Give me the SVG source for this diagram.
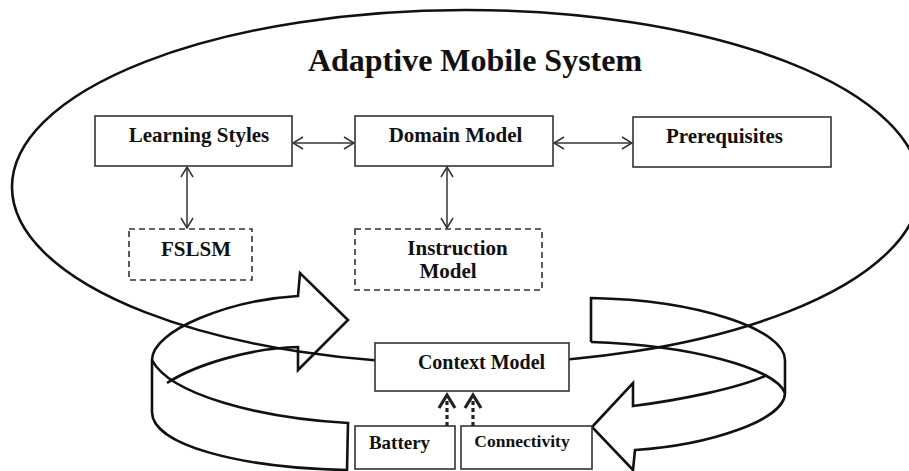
<svg xmlns="http://www.w3.org/2000/svg" width="909" height="471" viewBox="0 0 909 471">
  <style>
    .lbl { font-family: "Liberation Serif", "Times New Roman", serif; font-weight: bold; fill: #111; text-anchor: middle; }
    .box { fill: #fff; stroke: #333; stroke-width: 1.6; }
    .dbox { fill: #fff; stroke: #333; stroke-width: 1.6; stroke-dasharray: 6 4; }
    .link { fill: none; stroke: #333; stroke-width: 1.5; }
    .ring { fill: none; stroke: #111; stroke-width: 2.6; stroke-linejoin: miter; }
    .dep { fill: none; stroke: #222; stroke-width: 3.2; stroke-dasharray: 4 3; }
    .head { fill: none; stroke: #222; stroke-width: 3.2; stroke-linejoin: miter; }
  </style>
  <defs>
    <marker id="open" viewBox="0 0 12 14" refX="11" refY="7" markerWidth="12" markerHeight="14" markerUnits="userSpaceOnUse" orient="auto-start-reverse">
      <path d="M1,1 L11,7 L1,13" fill="none" stroke="#333" stroke-width="1.5"/>
    </marker>
  </defs>

  <!-- system boundary -->
  <ellipse cx="466" cy="187" rx="454" ry="177" fill="none" stroke="#111" stroke-width="2.6"/>
  <text class="lbl" x="475" y="71" font-size="32">Adaptive Mobile System</text>

  <!-- circular context loop ribbon -->
  <g id="loop">
    <!-- left: back arrow pointing right, left side and front band -->
    <path class="ring" d="M152,360 C152,330 230,300 298,296 L300,273 L348,320 L298,370 L298,347 C250,348 195,365 167,383"/>
    <path class="ring" d="M152,360 L152,412 C152,445 240,468 347,470 L348,423 C260,418 170,395 152,360"/>
    <!-- right: rear end, right side and front arrow pointing left -->
    <path class="ring" d="M591,342 L591,298 C700,300 785,330 785,360 L785,393 C785,420 710,445 635,450 L633,470 L592,427 L633,383 L633,406 C680,400 740,388 767,375"/>
    <path class="ring" d="M591,342 C690,345 775,368 785,393"/>
  </g>

  <!-- connectors -->
  <g id="connectors">
    <line class="link" x1="293" y1="143" x2="354" y2="143" marker-start="url(#open)" marker-end="url(#open)"/>
    <line class="link" x1="554" y1="143" x2="632" y2="143" marker-start="url(#open)" marker-end="url(#open)"/>
    <line class="link" x1="187" y1="167" x2="187" y2="228" marker-start="url(#open)" marker-end="url(#open)"/>
    <line class="link" x1="447" y1="167" x2="447" y2="228" marker-start="url(#open)" marker-end="url(#open)"/>
    <line class="dep" x1="447" y1="426" x2="447" y2="396"/>
    <path class="head" d="M439,408 L447,395 L455,408"/>
    <line class="dep" x1="473" y1="426" x2="473" y2="396"/>
    <path class="head" d="M465,408 L473,395 L481,408"/>
  </g>

  <g id="learning-styles">
    <rect class="box" x="95" y="116" width="197" height="50"/>
    <text class="lbl" x="199" y="142" font-size="21">Learning Styles</text>
  </g>
  <g id="domain-model">
    <rect class="box" x="355" y="116" width="198" height="50"/>
    <text class="lbl" x="455.5" y="142" font-size="21">Domain Model</text>
  </g>
  <g id="prerequisites">
    <rect class="box" x="633" y="117" width="198" height="50"/>
    <text class="lbl" x="724.5" y="143" font-size="21">Prerequisites</text>
  </g>
  <g id="fslsm">
    <rect class="dbox" x="129" y="229" width="123" height="51"/>
    <text class="lbl" x="196" y="256" font-size="21">FSLSM</text>
  </g>
  <g id="instruction-model">
    <rect class="dbox" x="355" y="229" width="187" height="61"/>
    <text class="lbl" x="457.5" y="255" font-size="21">Instruction</text>
    <text class="lbl" x="448" y="278" font-size="21">Model</text>
  </g>
  <g id="context-model">
    <rect class="box" x="375" y="343" width="194" height="48"/>
    <text class="lbl" x="481.5" y="369" font-size="20">Context Model</text>
  </g>
  <g id="battery">
    <rect class="box" x="355" y="426" width="100" height="43"/>
    <text class="lbl" x="399.5" y="449" font-size="19">Battery</text>
  </g>
  <g id="connectivity">
    <rect class="box" x="461" y="426" width="131" height="43"/>
    <text class="lbl" x="522" y="447" font-size="17.5">Connectivity</text>
  </g>
</svg>
